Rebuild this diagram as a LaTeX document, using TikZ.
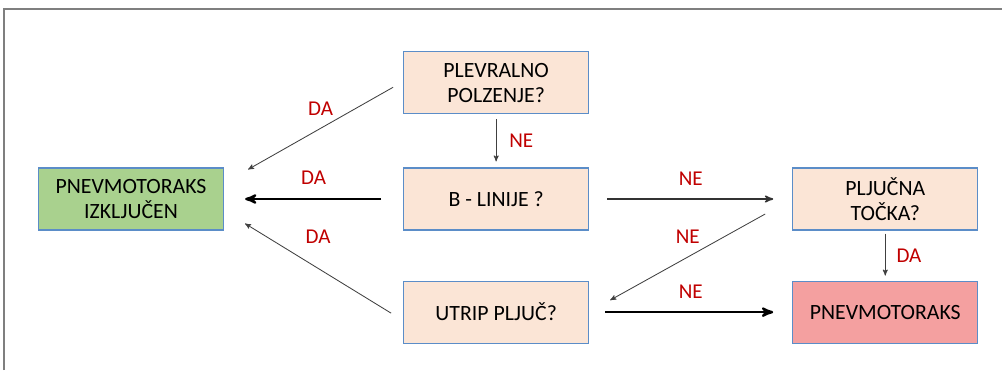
\documentclass[tikz,border=0pt]{standalone}
\usepackage{fontspec}
\setmainfont{Carlito}
\usetikzlibrary{arrows,positioning}
\definecolor{peach}{HTML}{FBE5D6}
\definecolor{leaf}{HTML}{A9D18E}
\definecolor{rose}{HTML}{F4A0A0}
\definecolor{edgeblue}{HTML}{5B8DC8}
\definecolor{yesno}{HTML}{C00000}
\definecolor{framegray}{HTML}{7F7F7F}

\begin{document}
\begin{tikzpicture}[x=0.25mm,y=-0.25mm,>=stealth']
\tikzstyle{box} = [rectangle, draw=edgeblue, line width=0.8pt, fill=peach, minimum width=46.25mm, minimum height=15.5mm, align=center, inner sep=0pt, font=\fontsize{15.5}{17.5}\selectfont]
\tikzstyle{lbl} = [text=yesno, font=\fontsize{15}{17}\selectfont, inner sep=2pt]
\tikzstyle{thin} = [->, draw=black!75, line width=0.6pt]
\tikzstyle{heavy} = [->, draw=black, line width=1.7pt]
\useasboundingbox (0,0) rectangle (1002,370);
% frame
\draw[framegray, line width=1.2pt] (4,370) -- (4,9) -- (1002,9);
% boxes
\node [box, fill=leaf] (izk) at (131,199) {PNEVMOTORAKS\\IZKLJUČEN};
\node [box, right=44.75mm of izk] (blin) {B - LINIJE ?};
\node [box, above=13.25mm of blin] (plev) {PLEVRALNO\\POLZENJE?};
\node [box, below=12.5mm of blin] (utrip) {UTRIP PLJUČ?};
\node [box, right=50.75mm of blin] (pljuc) {PLJUČNA\\TOČKA?};
\node [box, fill=rose, below=12.5mm of pljuc] (pnev) {PNEVMOTORAKS};
% connectors
\path ([xshift=-2.5mm,yshift=-1.1mm]plev.west) edge [thin] node [lbl, above=2.5mm, pos=0.5] {DA} ([xshift=6mm,yshift=-0.5mm]izk.north east);
\path (plev.south) edge [thin, shorten <=1.25mm, shorten >=1.5mm] node [lbl, right=2.5mm, pos=0.5] {NE} (blin.north);
\path (blin.west) edge [heavy, shorten <=5.5mm, shorten >=5.25mm] node [lbl, above=2.5mm, pos=0.5] {DA} (izk.east);
\path (blin.east) edge [->, draw=black!80, line width=1.1pt, shorten <=4.5mm, shorten >=4.75mm] node [lbl, above=2.5mm, pos=0.5] {NE} (pljuc.west);
\path ([xshift=-6.75mm,yshift=-3.75mm]pljuc.west) edge [thin] node [lbl, above=2.5mm, pos=0.5] {NE} ([xshift=5.25mm,yshift=3mm]utrip.east);
\path ([xshift=-3mm,yshift=-0.25mm]utrip.west) edge [thin] node [lbl, above=5.5mm, pos=0.5] {DA} ([xshift=5.25mm,yshift=1.75mm]izk.south east);
\path (utrip.east) edge [heavy, shorten <=4mm, shorten >=4.75mm] node [lbl, above=2.5mm, pos=0.5] {NE} (pnev.west);
\path (pljuc.south) edge [thin, shorten <=0.75mm, shorten >=1.25mm] node [lbl, right=2mm, pos=0.5] {DA} (pnev.north);
\end{tikzpicture}
\end{document}
